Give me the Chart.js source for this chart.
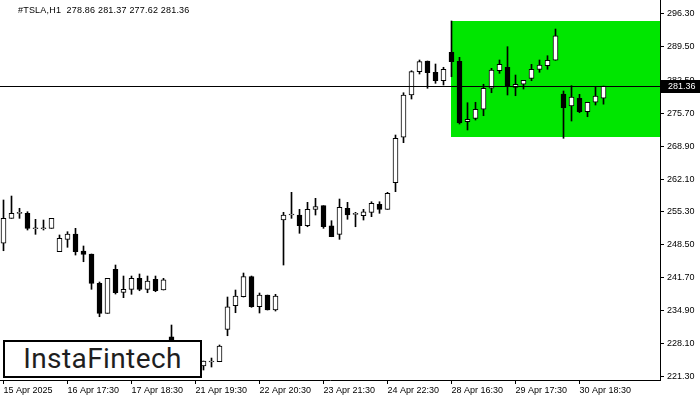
<!DOCTYPE html>
<html>
<head>
<meta charset="utf-8">
<script src="https://cdn.jsdelivr.net/npm/chart.js@4.4.1/dist/chart.umd.min.js"></script>
<style>
  html, body { margin: 0; padding: 0; background: #fff; }
  #wrap { position: relative; width: 700px; height: 400px; overflow: hidden; }
  #c { position: absolute; left: 0; top: 0; }
  #title { position: absolute; left: 18px; top: 5px; font: 9px "Liberation Sans", Arial, sans-serif; color: #000; white-space: pre; letter-spacing: 0.2px; }
  #logo { position: absolute; left: 3px; top: 340px; width: 195px; height: 34px; border: 2px solid #000; background: #fff;
          font: 400 28px Roboto, "Open Sans", sans-serif; color: #1e1e1e; text-align: center; line-height: 34px; letter-spacing: 0.4px; }
</style>
</head>
<body>
<div id="wrap">
  <canvas id="c" width="700" height="400"></canvas>
  <div id="title">#TSLA,H1  278.86 281.37 277.62 281.36</div>
  <div id="logo">InstaFintech</div>
</div>
<script>
// ---- Data (H1 candles, TSLA, 15 Apr 2025 16:30 .. 30 Apr 2025 21:30) ----
const opens = [
  248.80, 253.97, 255.01, 255.01, 251.82, 251.82, 251.90, 247.06, 249.62, 250.72,
  247.20, 246.58, 240.51, 234.29, 243.41, 238.64, 239.27, 241.54, 239.27, 241.34,
  239.12, 229.40, 227.00, 223.00, 222.40, 223.38, 224.20, 224.27, 230.98, 235.87,
  237.73, 241.88, 235.66, 238.08, 234.98, 253.62, 254.66, 254.66, 252.44, 255.84,
  256.59, 252.44, 250.66, 256.05, 254.80, 254.51, 255.22, 256.88, 255.84, 261.35,
  270.76, 279.52, 284.35, 286.56, 284.22, 282.48, 288.36, 286.50, 273.99, 274.69,
  276.56, 280.91, 284.55, 285.26, 281.11, 281.74, 282.98, 284.84, 285.59, 286.71,
  279.73, 277.24, 278.84, 276.06, 278.01, 278.86
];
const highs = [
  257.77, 258.59, 256.05, 255.34, 253.77, 253.62, 253.97, 250.52, 251.20, 251.90,
  248.24, 246.58, 240.78, 241.54, 244.30, 242.02, 242.02, 242.44, 242.02, 242.02,
  241.54, 231.87, 227.60, 224.00, 224.20, 224.41, 225.03, 227.73, 237.67, 239.12,
  242.64, 242.02, 238.50, 238.08, 238.23, 255.22, 259.36, 255.84, 257.29, 258.12,
  256.59, 253.48, 257.97, 257.29, 255.22, 255.84, 257.41, 257.41, 259.36, 271.23,
  279.99, 284.55, 286.77, 286.56, 285.94, 285.26, 294.85, 287.33, 277.92, 278.01,
  281.74, 285.05, 286.77, 289.53, 283.66, 282.56, 285.88, 286.77, 287.66, 293.19,
  280.35, 281.45, 279.66, 278.01, 281.24, 281.37
];
const lows = [
  247.26, 253.97, 253.97, 251.55, 250.66, 251.55, 251.90, 247.06, 247.97, 246.37,
  244.98, 239.27, 233.59, 234.29, 238.29, 237.53, 238.23, 238.97, 238.56, 238.77,
  239.12, 225.50, 222.20, 221.50, 221.90, 222.55, 223.17, 224.27, 229.65, 234.42,
  237.67, 235.54, 234.36, 234.98, 234.77, 244.30, 253.97, 250.87, 252.23, 254.66,
  251.90, 250.16, 249.62, 253.77, 252.23, 253.62, 254.31, 255.01, 255.84, 259.49,
  269.64, 278.69, 283.87, 280.91, 281.94, 281.59, 283.31, 273.51, 272.27, 274.34,
  275.23, 279.99, 284.01, 279.52, 279.37, 280.76, 282.48, 284.22, 284.84, 286.71,
  270.55, 274.13, 275.85, 275.02, 277.45, 277.62
];
const closes = [
  253.97, 255.01, 255.01, 251.90, 251.82, 251.82, 253.97, 249.83, 250.72, 247.06,
  246.52, 240.51, 234.29, 241.54, 238.56, 239.27, 241.54, 239.27, 240.99, 238.97,
  241.21, 227.00, 223.00, 222.40, 223.40, 224.41, 224.20, 227.52, 235.66, 237.88,
  241.88, 235.66, 238.08, 234.98, 237.88, 254.66, 254.66, 252.44, 255.84, 256.38,
  252.23, 250.16, 256.25, 254.66, 254.80, 255.34, 257.08, 255.84, 259.15, 270.55,
  279.52, 284.35, 286.42, 284.14, 282.48, 284.84, 286.42, 273.72, 274.48, 276.56,
  280.91, 284.70, 285.88, 281.38, 281.74, 282.56, 284.84, 285.73, 286.71, 291.80,
  276.89, 279.10, 276.06, 278.01, 279.31, 281.36
];

// x-axis tick labels (every 8th bar)
const xTickIndex = [0, 8, 16, 24, 32, 40, 48, 56, 64, 72];
const xTickLabels = ['15 Apr 2025', '16 Apr 17:30', '17 Apr 18:30', '21 Apr 19:30', '22 Apr 20:30',
                     '23 Apr 21:30', '24 Apr 22:30', '28 Apr 16:30', '29 Apr 17:30', '30 Apr 18:30'];
// price-axis tick labels
const yTicks = [221.30, 228.10, 234.90, 241.70, 248.50, 255.30, 262.10, 268.90, 275.70, 282.50, 289.50, 296.30];

// green rectangle pattern zone (from bar index to the right edge)
const zoneStartIndex = [56];
const zoneRange = [270.85, 294.85];
const bidPrice = [281.36];

// ---- Build datasets ----
const idx = opens.map((_, i) => i);
const wickData = idx.map(i => ({ x: i, y: [lows[i], highs[i]] }));
const bodyData = idx.map(i => ({ x: i, y: [opens[i], closes[i]] }));
const bodyFill = idx.map(i => closes[i] >= opens[i] ? '#ffffff' : '#000000');

const zonePlugin = {
  id: 'zone',
  beforeDatasetsDraw(chart) {
    const { ctx, chartArea, scales } = chart;
    const x0 = Math.round(scales.x.getPixelForValue(zoneStartIndex[0]) - 0.5);
    const yTop = Math.round(scales.y.getPixelForValue(zoneRange[1]));
    const yBot = Math.round(scales.y.getPixelForValue(zoneRange[0]));
    ctx.save();
    ctx.fillStyle = '#00e600';
    ctx.fillRect(x0, yTop, chartArea.right - x0, yBot - yTop);
    ctx.restore();
  },
  afterDatasetsDraw(chart) {
    const { ctx, chartArea, scales } = chart;
    const y = Math.round(scales.y.getPixelForValue(bidPrice[0])) + 0.5;
    ctx.save();
    ctx.strokeStyle = '#000';
    ctx.lineWidth = 1;
    ctx.beginPath();
    ctx.moveTo(chartArea.left, y);
    ctx.lineTo(chartArea.right, y);
    ctx.stroke();
    ctx.restore();
  },
  afterDraw(chart) {
    const { ctx, chartArea, scales } = chart;
    const y = Math.round(scales.y.getPixelForValue(bidPrice[0]));
    ctx.save();
    ctx.fillStyle = '#000';
    ctx.fillRect(chartArea.right + 1, y - 6, 40, 13);
    ctx.fillStyle = '#fff';
    ctx.font = '9px "Liberation Sans", Arial, sans-serif';
    ctx.textBaseline = 'middle';
    ctx.textAlign = 'left';
    ctx.fillText(bidPrice[0].toFixed(2), chartArea.right + 8, y + 1);
    ctx.restore();
  }
};

const xMin = -3.5 / 8;
const xMax = xMin + 82.5;
new Chart(document.getElementById('c'), {
  type: 'bar',
  data: {
    datasets: [
      {
        label: 'body', data: bodyData, order: 0, grouped: false,
        backgroundColor: bodyFill, borderColor: '#000', borderWidth: 1, borderSkipped: false,
        barThickness: 5, minBarLength: 1
      },
      {
        label: 'wick', data: wickData, order: 1, grouped: false,
        backgroundColor: '#000', borderWidth: 0, barThickness: 1, minBarLength: 1
      }
    ]
  },
  options: {
    responsive: false,
    animation: false,
    layout: { padding: 0 },
    plugins: { legend: { display: false }, tooltip: { enabled: false }, title: { display: false } },
    scales: {
      x: {
        type: 'linear', min: xMin, max: xMax, offset: false, bounds: 'data', grace: 0,
        afterDataLimits(scale) { scale.min = xMin; scale.max = xMax; },
        afterBuildTicks(scale) { scale.ticks = xTickIndex.map(v => ({ value: v })); scale.min = xMin; scale.max = xMax; },
        afterFit(scale) { scale.height = 20; scale.paddingLeft = 0; scale.paddingRight = 0; },
        ticks: {
          autoSkip: false, maxRotation: 0, minRotation: 0, align: 'start', padding: 1,
          color: '#000', font: { family: '"Liberation Sans", Arial, sans-serif', size: 9 },
          callback(v) { const k = xTickIndex.indexOf(v); return k >= 0 ? xTickLabels[k] : ''; }
        },
        grid: { offset: false, drawOnChartArea: false, drawTicks: true, tickLength: 4, tickColor: '#000' },
        border: { display: true, color: '#000', width: 1 }
      },
      y: {
        type: 'linear', position: 'right', min: 220.48, max: 299.2,
        afterBuildTicks(scale) { scale.ticks = yTicks.map(v => ({ value: v })); },
        afterFit(scale) { scale.width = 40; scale.paddingTop = 0; scale.paddingBottom = 0; },
        ticks: {
          padding: 3, color: '#000', font: { family: '"Liberation Sans", Arial, sans-serif', size: 9 },
          callback(v) { return Number(v).toFixed(2); }
        },
        grid: { drawOnChartArea: false, drawTicks: true, tickLength: 4, tickColor: '#000' },
        border: { display: true, color: '#000', width: 1 }
      }
    }
  },
  plugins: [zonePlugin]
});
</script>
</body>
</html>
